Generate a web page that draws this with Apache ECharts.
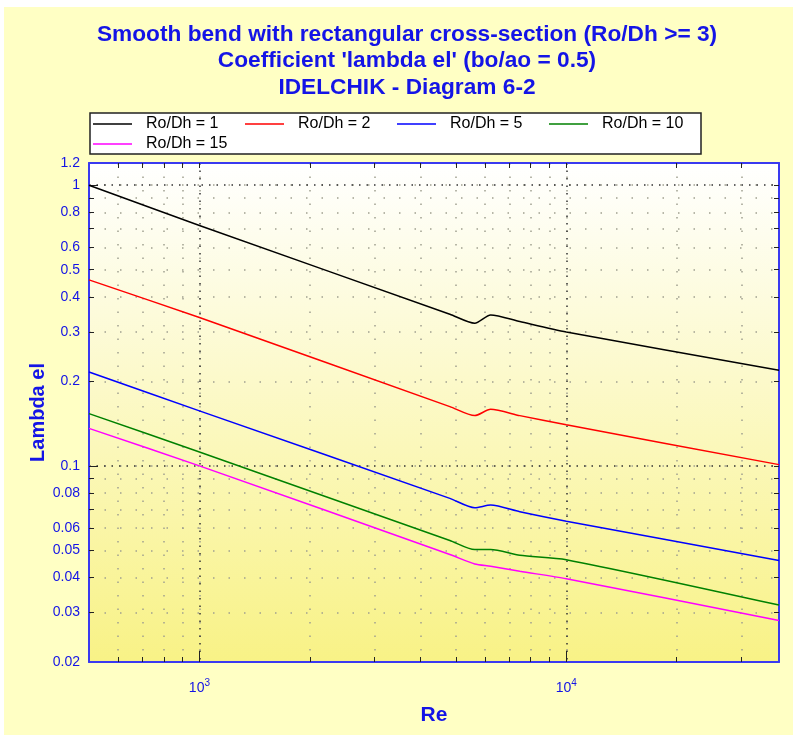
<!DOCTYPE html>
<html lang="en">
<head>
    <meta charset="UTF-8">
    <title>Idelchik 6-2</title>
    <script src="https://cdn.jsdelivr.net/npm/echarts@6/dist/echarts.min.js"></script>
    <style>
        body { margin: 0; background: #fff; }
        #chart { position: absolute; left: 4px; top: 7px; width: 789px; height: 728px; }
    </style>
</head>
<body>
    <div id="chart"></div>
    <script>
        // Re values where the curves were read
        var re = [500, 1000, 4815, 5630, 6220, 7470, 10000, 38000]
        var ro1 = [1.0, 0.719, 0.347, 0.3224, 0.345, 0.3266, 0.300, 0.219]
        var ro2 = [0.46, 0.3376, 0.1626, 0.151, 0.159, 0.151, 0.140, 0.101]
        var ro5 = [0.216, 0.157, 0.0766, 0.0709, 0.0725, 0.0686, 0.0635, 0.046]
        var ro10 = [0.1535, 0.112, 0.0542, 0.0503, 0.0503, 0.048, 0.0463, 0.0319]
        var ro15 = [0.136, 0.1, 0.0483, 0.0447, 0.0439, 0.0421, 0.0396, 0.0281]
        var names = ['Ro/Dh = 1', 'Ro/Dh = 2', 'Ro/Dh = 5', 'Ro/Dh = 10', 'Ro/Dh = 15']
        var colors = ['#000000', '#ff0000', '#0000ff', '#008000', '#ff00ff']

        var xTicks = [600, 700, 800, 900, 1000, 2000, 3000, 4000, 5000, 6000, 7000, 8000, 9000, 10000, 20000, 30000]
        var xMajor = [1000, 10000]
        var yTicks = [0.03, 0.04, 0.05, 0.06, 0.07, 0.08, 0.09, 0.1, 0.2, 0.3, 0.4, 0.5, 0.6, 0.7, 0.8, 0.9, 1]
        var yLabels = [0.02, 0.03, 0.04, 0.05, 0.06, 0.08, 0.1, 0.2, 0.3, 0.4, 0.5, 0.6, 0.8, 1, 1.2]
        var yMajor = [0.1, 1]
        var reMin = 500, reMax = 38000, lamMin = 0.02, lamMax = 1.2
        var titleText = "Smooth bend with rectangular cross-section (Ro/Dh >= 3)\nCoefficient 'lambda el' (bo/ao = 0.5)\nIDELCHIK - Diagram 6-2"

        var lg = Math.log10
        var blue = '#1414e6'
        var axisBlue = '#3a3af0'
        var font = 'Liberation Sans, Arial, sans-serif'

        var chart = echarts.init(document.getElementById('chart'))
        var allData = [ro1, ro2, ro5, ro10, ro15]

        var series = allData.map(function (vals, i) {
            return {
                name: names[i],
                type: 'line',
                showSymbol: false,
                symbol: 'none',
                smooth: 0.25,
                data: vals.map(function (v, k) { return [lg(re[k]), lg(v)] }),
                lineStyle: { color: colors[i], width: 1.5 },
                itemStyle: { color: colors[i] },
                z: 5
            }
        })

        var xBase = { type: 'value', min: lg(reMin), max: lg(reMax), gridIndex: 0 }
        var yBase = { type: 'value', min: lg(lamMin), max: lg(lamMax), gridIndex: 0 }
        var hiddenLabel = { show: false }
        var tickStyle = { color: '#222' }

        var options = {
            backgroundColor: '#ffffc4',
            animation: false,
            color: colors,
            // title block is a bit right of the page centre in the original
            graphic: [{
                type: 'text',
                x: 403,
                y: 54,
                style: {
                    text: titleText,
                    align: 'center',
                    verticalAlign: 'middle',
                    fill: blue,
                    fontSize: 22.7,
                    fontWeight: 'bold',
                    fontFamily: font,
                    lineHeight: 26.5
                }
            }],
            legend: {
                data: names,
                left: 86,
                top: 106,
                width: 615,
                itemGap: 0,
                icon: 'rect',
                itemWidth: 39,
                itemHeight: 1.5,
                padding: [1, 0, 0, 3],
                backgroundColor: '#ffffff',
                borderColor: '#222222',
                borderWidth: 1.5,
                textStyle: {
                    fontSize: 16,
                    fontFamily: font,
                    color: '#000',
                    width: 87,
                    lineHeight: 20,
                    padding: [0, 12, 0, 9]
                }
            },
            grid: {
                left: 85,
                top: 156,
                right: 14,
                bottom: 73,
                show: true,
                borderWidth: 0,
                backgroundColor: {
                    type: 'linear', x: 0, y: 0, x2: 0, y2: 1,
                    colorStops: [{ offset: 0, color: '#ffffff' }, { offset: 1, color: '#f8f286' }]
                }
            },
            xAxis: [
                Object.assign({}, xBase, {
                    position: 'bottom',
                    name: 'Re',
                    nameLocation: 'middle',
                    nameGap: 43,
                    nameMoveOverlap: false,
                    nameTextStyle: { color: blue, fontSize: 21, fontWeight: 'bold', fontFamily: font },
                    axisLine: { show: true, onZero: false, lineStyle: { color: axisBlue, width: 2 } },
                    axisTick: { show: true, inside: true, length: 5, customValues: xTicks.map(lg), lineStyle: tickStyle },
                    axisLabel: {
                        show: true,
                        customValues: xMajor.map(lg),
                        margin: 16,
                        color: blue,
                        fontSize: 14,
                        fontFamily: font,
                        formatter: function (v) { return '10{sup|' + Math.round(v) + '}' },
                        rich: { sup: { fontSize: 10, color: blue, padding: [0, 0, 10, 0], fontFamily: font } }
                    },
                    splitLine: { show: true, lineStyle: { color: '#a0a090', width: 1.5, type: [1.5, 12] } }
                }),
                Object.assign({}, xBase, {
                    position: 'bottom',
                    axisLine: { show: false, onZero: false },
                    axisTick: { show: true, inside: true, length: 11, customValues: xMajor.map(lg), lineStyle: tickStyle },
                    axisLabel: hiddenLabel,
                    splitLine: { show: true, lineStyle: { color: '#333', width: 1.5, type: [1.5, 6] } }
                }),
                Object.assign({}, xBase, {
                    position: 'top',
                    axisLine: { show: true, onZero: false, lineStyle: { color: axisBlue, width: 2 } },
                    axisTick: { show: true, inside: true, length: 5, customValues: xTicks.map(lg), lineStyle: tickStyle },
                    axisLabel: hiddenLabel,
                    splitLine: { show: false }
                })
            ],
            yAxis: [
                Object.assign({}, yBase, {
                    position: 'left',
                    name: 'Lambda el',
                    nameLocation: 'middle',
                    nameGap: 41,
                    nameMoveOverlap: false,
                    nameTextStyle: { color: blue, fontSize: 20, fontWeight: 'bold', fontFamily: font },
                    axisLine: { show: true, onZero: false, lineStyle: { color: axisBlue, width: 2 } },
                    axisTick: { show: true, inside: true, length: 5, customValues: yTicks.map(lg), lineStyle: tickStyle },
                    axisLabel: {
                        show: true,
                        customValues: yLabels.map(lg),
                        margin: 9,
                        color: blue,
                        fontSize: 14,
                        fontFamily: font,
                        formatter: function (v) { return String(+Math.pow(10, v).toPrecision(2)) }
                    },
                    splitLine: { show: true, lineStyle: { color: '#a0a090', width: 1.5, type: [1.5, 14] } }
                }),
                Object.assign({}, yBase, {
                    position: 'left',
                    axisLine: { show: false, onZero: false },
                    axisTick: { show: true, inside: true, length: 9, customValues: yMajor.map(lg), lineStyle: tickStyle },
                    axisLabel: hiddenLabel,
                    splitLine: { show: true, lineStyle: { color: '#333', width: 1.5, type: [1.5, 6] } }
                }),
                Object.assign({}, yBase, {
                    position: 'right',
                    axisLine: { show: true, onZero: false, lineStyle: { color: axisBlue, width: 2 } },
                    axisTick: { show: true, inside: true, length: 5, customValues: yTicks.map(lg), lineStyle: tickStyle },
                    axisLabel: hiddenLabel,
                    splitLine: { show: false }
                })
            ],
            series: series
        }
        chart.setOption(options)
    </script>
</body>
</html>
